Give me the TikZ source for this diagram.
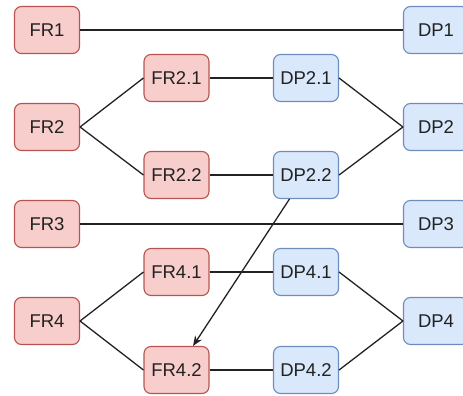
\documentclass[tikz,border=0pt]{standalone}
\usepackage{fontspec}
\setmainfont{Liberation Sans}
\usetikzlibrary{arrows.meta,calc}
\definecolor{frfill}{HTML}{F8CECC}
\definecolor{frdraw}{HTML}{B85450}
\definecolor{dpfill}{HTML}{DAE8FC}
\definecolor{dpdraw}{HTML}{6C8EBF}
\definecolor{txt}{HTML}{222222}
\definecolor{edge}{HTML}{222222}
\begin{document}
\begin{tikzpicture}[x=1pt,y=-1pt,
  box/.style={rounded corners=7pt,line width=1.1pt,minimum width=65pt,minimum height=47pt,
    inner sep=0pt,font=\fontsize{18.5pt}{20pt}\selectfont,text=txt},
  fr/.style={box,fill=frfill,draw=frdraw},
  dp/.style={box,fill=dpfill,draw=dpdraw},
  link/.style={draw=edge,line width=1.3pt}]
\useasboundingbox (0,0) rectangle (463,396);
\node[fr] (fr1) at (47,30) {FR1};
\node[fr] (fr2) at (47,127) {FR2};
\node[fr] (fr3) at (47,224) {FR3};
\node[fr] (fr4) at (47,321) {FR4};
\node[fr] (fr21) at (176.5,78) {FR2.1};
\node[fr] (fr22) at (176.5,175) {FR2.2};
\node[fr] (fr41) at (176.5,272) {FR4.1};
\node[fr] (fr42) at (176.5,370) {FR4.2};
\node[dp] (dp21) at (306,78) {DP2.1};
\node[dp] (dp22) at (306,175) {DP2.2};
\node[dp] (dp41) at (306,272) {DP4.1};
\node[dp] (dp42) at (306,370) {DP4.2};
\node[dp] (dp1) at (436,30) {DP1};
\node[dp] (dp2) at (436,127) {DP2};
\node[dp] (dp3) at (436,224) {DP3};
\node[dp] (dp4) at (436,321) {DP4};
\draw[link] (fr1) -- (dp1);
\draw[link] (fr3) -- (dp3);
\draw[link] (fr2.east) -- (fr21.west);
\draw[link] (fr2.east) -- (fr22.west);
\draw[link] (fr4.east) -- (fr41.west);
\draw[link] (fr4.east) -- (fr42.west);
\draw[link] (fr21) -- (dp21);
\draw[link] (fr22) -- (dp22);
\draw[link] (fr41) -- (dp41);
\draw[link] (fr42) -- (dp42);
\draw[link] (dp21.east) -- (dp2.west);
\draw[link] (dp22.east) -- (dp2.west);
\draw[link] (dp41.east) -- (dp4.west);
\draw[link] (dp42.east) -- (dp4.west);
\coordinate (as) at ($(dp22.south west)!0.25!(dp22.south east)$);
\coordinate (ae) at ($(fr42.north west)!0.75!(fr42.north east)$);
\draw[link,-{Stealth[length=10pt,width=8pt]}] (as) -- (ae);
\end{tikzpicture}
\end{document}
